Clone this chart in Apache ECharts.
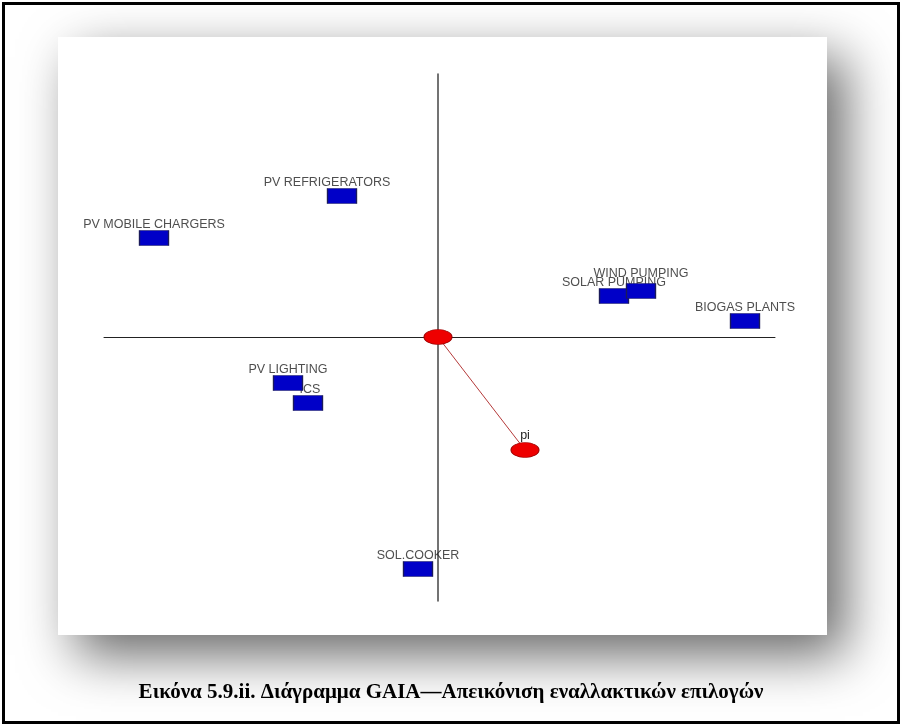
<!DOCTYPE html>
<html>
<head>
<meta charset="utf-8">
<script src="https://cdn.jsdelivr.net/npm/echarts@6/dist/echarts.min.js"></script>
<style>
html,body{margin:0;padding:0;background:#fff;}
#c{width:902px;height:726px;}
</style>
</head>
<body>
<div id="c"></div>
<script>
// GAIA plane data (relative units)
const alternatives = ['PV REFRIGERATORS','PV MOBILE CHARGERS','SOLAR PUMPING','WIND PUMPING','BIOGAS PLANTS','PV LIGHTING','ICS','SOL.COOKER'];
const altX = [-0.96, -2.84, 1.76, 2.03, 3.07, -1.50, -1.30, -0.20];
const altY = [ 1.41,  0.99, 0.41, 0.46, 0.16, -0.46, -0.66, -2.32];
const piX = [0.87];
const piY = [-1.13];
const piName = ['pi'];
const originX = [0];
const originY = [0];
const caption = 'Εικόνα 5.9.ii. Διάγραμμα GAIA—Απεικόνιση εναλλακτικών επιλογών';

const labelOffsets = {'PV REFRIGERATORS':[-15,0],'WIND PUMPING':[0,-4],'ICS':[2,0]};

const altData = alternatives.map((n,i)=>({name:n,value:[altX[i],altY[i]]}));
const labelData = alternatives.map((n,i)=>({
  name:n, value:[altX[i],altY[i]],
  label:{offset: labelOffsets[n] || [0,0]}
}));

const chart = echarts.init(document.getElementById('c'), null, {renderer:'canvas'});
chart.setOption({
  backgroundColor:'#fff',
  animation:false,
  graphic:[
    {type:'rect', z:-10, shape:{x:3.5,y:3.5,width:895,height:719}, style:{fill:'#fff',stroke:'#000',lineWidth:3}},
    {type:'rect', z:-5, shape:{x:58,y:37,width:769,height:598},
     style:{fill:'#fff', shadowBlur:50, shadowOffsetX:18, shadowOffsetY:20, shadowColor:'rgba(0,0,0,0.6)'}},
    {type:'text', z:10, left:'center', top:682,
     style:{text:caption, font:'bold 21px "Liberation Serif", "DejaVu Serif", serif', fill:'#000'}}
  ],
  grid:{left:104, right:127, top:74, bottom:125},
  xAxis:{type:'value', min:-3.34, max:3.37,
    axisLine:{show:true,onZero:true,lineStyle:{color:'#222',width:1}},
    axisTick:{show:false}, axisLabel:{show:false}, splitLine:{show:false}},
  yAxis:{type:'value', min:-2.64, max:2.63,
    axisLine:{show:true,onZero:true,lineStyle:{color:'#444',width:1.5}},
    axisTick:{show:false}, axisLabel:{show:false}, splitLine:{show:false}},
  series:[
    {type:'scatter', z:2, symbolSize:0.1, silent:true,
     data:labelData,
     label:{show:true, position:'top', distance:7, formatter:'{b}',
       fontFamily:'"Liberation Sans", Arial, sans-serif', fontSize:12.5, color:'#222'}},
    {type:'scatter', z:3, symbol:'rect', symbolSize:[29,15], silent:true,
     data:altData,
     itemStyle:{color:'#0000c8', borderColor:'#1a1a5a', borderWidth:1, opacity:1}},
    {type:'line', z:4, silent:true, symbol:'none',
     data:[[originX[0],originY[0]],[piX[0],piY[0]]],
     lineStyle:{color:'#b53a3a', width:1}},
    {type:'scatter', z:5, symbol:'circle', symbolSize:[28,15], silent:true,
     data:[{name:'',value:[originX[0],originY[0]]}],
     itemStyle:{color:'#ee0000', borderColor:'#990000', borderWidth:0.8, opacity:1}},
    {type:'scatter', z:5, symbol:'circle', symbolSize:[28,15], silent:true,
     data:piName.map((n,i)=>({name:n,value:[piX[i],piY[i]]})),
     itemStyle:{color:'#ee0000', borderColor:'#990000', borderWidth:0.8, opacity:1},
     label:{show:true, position:'top', distance:0, formatter:'{b}',
       fontFamily:'"Liberation Sans", Arial, sans-serif', fontSize:12.5, color:'#222'}}
  ]
});
</script>
</body>
</html>
